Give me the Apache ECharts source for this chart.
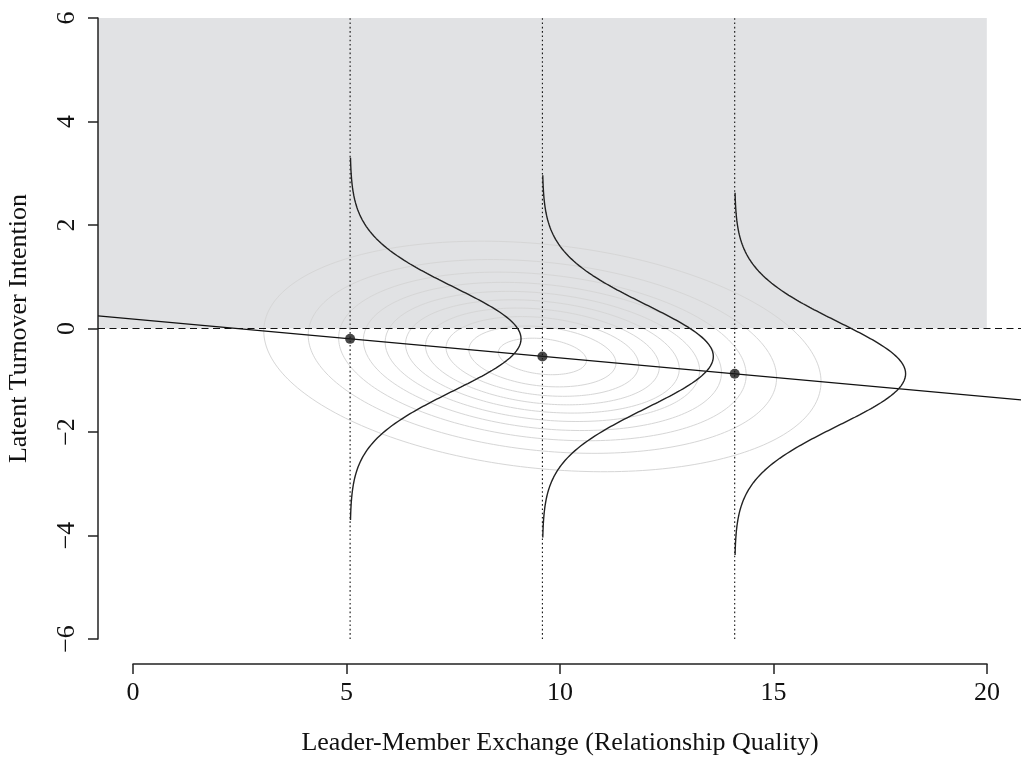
<!DOCTYPE html>
<html>
<head>
<meta charset="utf-8">
<script src="https://cdn.jsdelivr.net/npm/echarts@6/dist/echarts.min.js"></script>
<style>
html,body{margin:0;padding:0;background:#fff;}
#chart{width:1021px;height:759px;}
</style>
</head>
<body>
<div id="chart"></div>
<script>
// ---- data ----
const xRange = [-0.8, 20.8];
const yRange = [-6, 6];
const xTicks = [0, 5, 10, 15, 20];
const yTicks = [-6, -4, -2, 0, 2, 4, 6];
const xTitle = 'Leader-Member Exchange (Relationship Quality)';
const yTitle = 'Latent Turnover Intention';

const conditionX = [5.1, 9.6, 14.1];
const conditionMean = [-0.2, -0.54, -0.875];
const lineIntercept = 0.1825;
const lineSlope = -0.075;
const thresholdY = 0;
const shadeX = [-0.8, 20];
const shadeY = [0, 6];

const densitySd = [1, 1, 1];
const densityHalfRange = [3.5, 3.5, 3.5];
const densityPeakWidth = [4, 4, 4];

const contourCenter = [9.6, -0.54];
const contourSdX = 3;
const contourResidSd = 1;
const contourLevels = [0.005, 0.01, 0.015, 0.02, 0.025, 0.03, 0.035, 0.04, 0.045, 0.05];

// ---- build shapes ----
const FONT = '"Liberation Serif", "DejaVu Serif", serif';
const FS = 26;
const series = [];

series.push({
  type: 'custom', xAxisIndex: 0, yAxisIndex: 0, z: 0, silent: true,
  renderItem: function (params, api) {
    const p0 = api.coord([api.value(0), api.value(3)]);
    const p1 = api.coord([api.value(1), api.value(2)]);
    return { type: 'rect', shape: { x: p0[0], y: p0[1], width: p1[0] - p0[0], height: p1[1] - p0[1] },
      style: { fill: '#e1e2e4' } };
  },
  encode: { x: [0, 1], y: [2, 3] },
  data: [[shadeX[0], shadeX[1], shadeY[0], shadeY[1]]]
});

// contour ellipses of bivariate normal
const maxDens = 1 / (2 * Math.PI * contourSdX * contourResidSd);
contourLevels.forEach(function (lv) {
  const r = Math.sqrt(2 * Math.log(maxDens / lv));
  const pts = [];
  const N = 240;
  for (let i = 0; i <= N; i++) {
    const t = 2 * Math.PI * i / N;
    const u = Math.cos(t), v = Math.sin(t);
    pts.push([contourCenter[0] + contourSdX * r * u,
              contourCenter[1] + lineSlope * contourSdX * r * u + contourResidSd * r * v]);
  }
  series.push({ type: 'line', data: pts, showSymbol: false, silent: true, z: 1,
    lineStyle: { color: '#d6d6d6', width: 1 } });
});

// vertical dotted lines
conditionX.forEach(function (x) {
  series.push({ type: 'line', data: [[x, yRange[0]], [x, yRange[1]]], showSymbol: false, silent: true, z: 2,
    lineStyle: { color: '#111', width: 1.1, type: [1.6, 2.7] } });
});

// dashed threshold
series.push({ type: 'line', data: [[xRange[0], thresholdY], [xRange[1], thresholdY]], showSymbol: false, silent: true, z: 2,
  lineStyle: { color: '#111', width: 1.2, type: [7, 4.5] } });

// regression line
series.push({ type: 'line', data: [[xRange[0], lineIntercept + lineSlope * xRange[0]], [xRange[1], lineIntercept + lineSlope * xRange[1]]],
  showSymbol: false, silent: true, z: 3, lineStyle: { color: '#111', width: 1.3 } });

// density curves
conditionX.forEach(function (x0, k) {
  const m = conditionMean[k], s = densitySd[k], h = densityHalfRange[k], w = densityPeakWidth[k];
  const pts = [];
  const N = 300;
  for (let i = 0; i <= N; i++) {
    const y = m - h + 2 * h * i / N;
    const z = (y - m) / s;
    pts.push([x0 + w * Math.exp(-z * z / 2), y]);
  }
  series.push({ type: 'line', data: pts, showSymbol: false, silent: true, z: 3,
    lineStyle: { color: '#222', width: 1.4 } });
});

// points
series.push({ type: 'scatter', data: conditionX.map(function (x, k) { return [x, conditionMean[k]]; }),
  symbolSize: 10, z: 4, itemStyle: { color: '#1a1a1a' } });

// placeholder for second grid
series.push({ type: 'line', xAxisIndex: 1, yAxisIndex: 1, data: [], silent: true });

const fmt = function (v) { return String(v).replace('-', '\u2212'); };

const chart = echarts.init(document.getElementById('chart'), null, { renderer: 'canvas' });
chart.setOption({
  animation: false,
  backgroundColor: '#fff',
  grid: [
    { left: 98, right: 0, top: 18, bottom: 120, containLabel: false, outerBoundsMode: 'none' },
    { left: 133, right: 34, top: 663, height: 1, containLabel: false, outerBoundsMode: 'none' }
  ],
  xAxis: [
    { gridIndex: 0, type: 'value', min: xRange[0], max: xRange[1], show: false },
    { gridIndex: 1, type: 'value', min: xTicks[0], max: xTicks[xTicks.length - 1], interval: xTicks[1] - xTicks[0],
      position: 'bottom',
      axisLine: { show: true, onZero: false, lineStyle: { color: '#222', width: 1.5 } },
      axisTick: { show: true, length: 10, inside: false, lineStyle: { color: '#222', width: 1.5 } },
      axisLabel: { show: true, margin: 16, color: '#111', fontFamily: FONT, fontSize: FS, formatter: fmt },
      splitLine: { show: false },
      name: xTitle, nameLocation: 'middle', nameGap: 66,
      nameTextStyle: { color: '#111', fontFamily: FONT, fontSize: FS } }
  ],
  yAxis: [
    { gridIndex: 0, type: 'value', min: yTicks[0], max: yTicks[yTicks.length - 1], interval: yTicks[1] - yTicks[0],
      axisLine: { show: true, onZero: false, lineStyle: { color: '#222', width: 1.5 } },
      axisTick: { show: true, length: 10, inside: false, lineStyle: { color: '#222', width: 1.5 } },
      axisLabel: { show: true, rotate: 90, margin: 18, color: '#111', fontFamily: FONT, fontSize: FS, formatter: fmt },
      splitLine: { show: false },
      name: yTitle, nameLocation: 'middle', nameGap: 66, nameRotate: 90,
      nameTextStyle: { color: '#111', fontFamily: FONT, fontSize: FS } },
    { gridIndex: 1, type: 'value', show: false }
  ],
  series: series
});
</script>
</body>
</html>
